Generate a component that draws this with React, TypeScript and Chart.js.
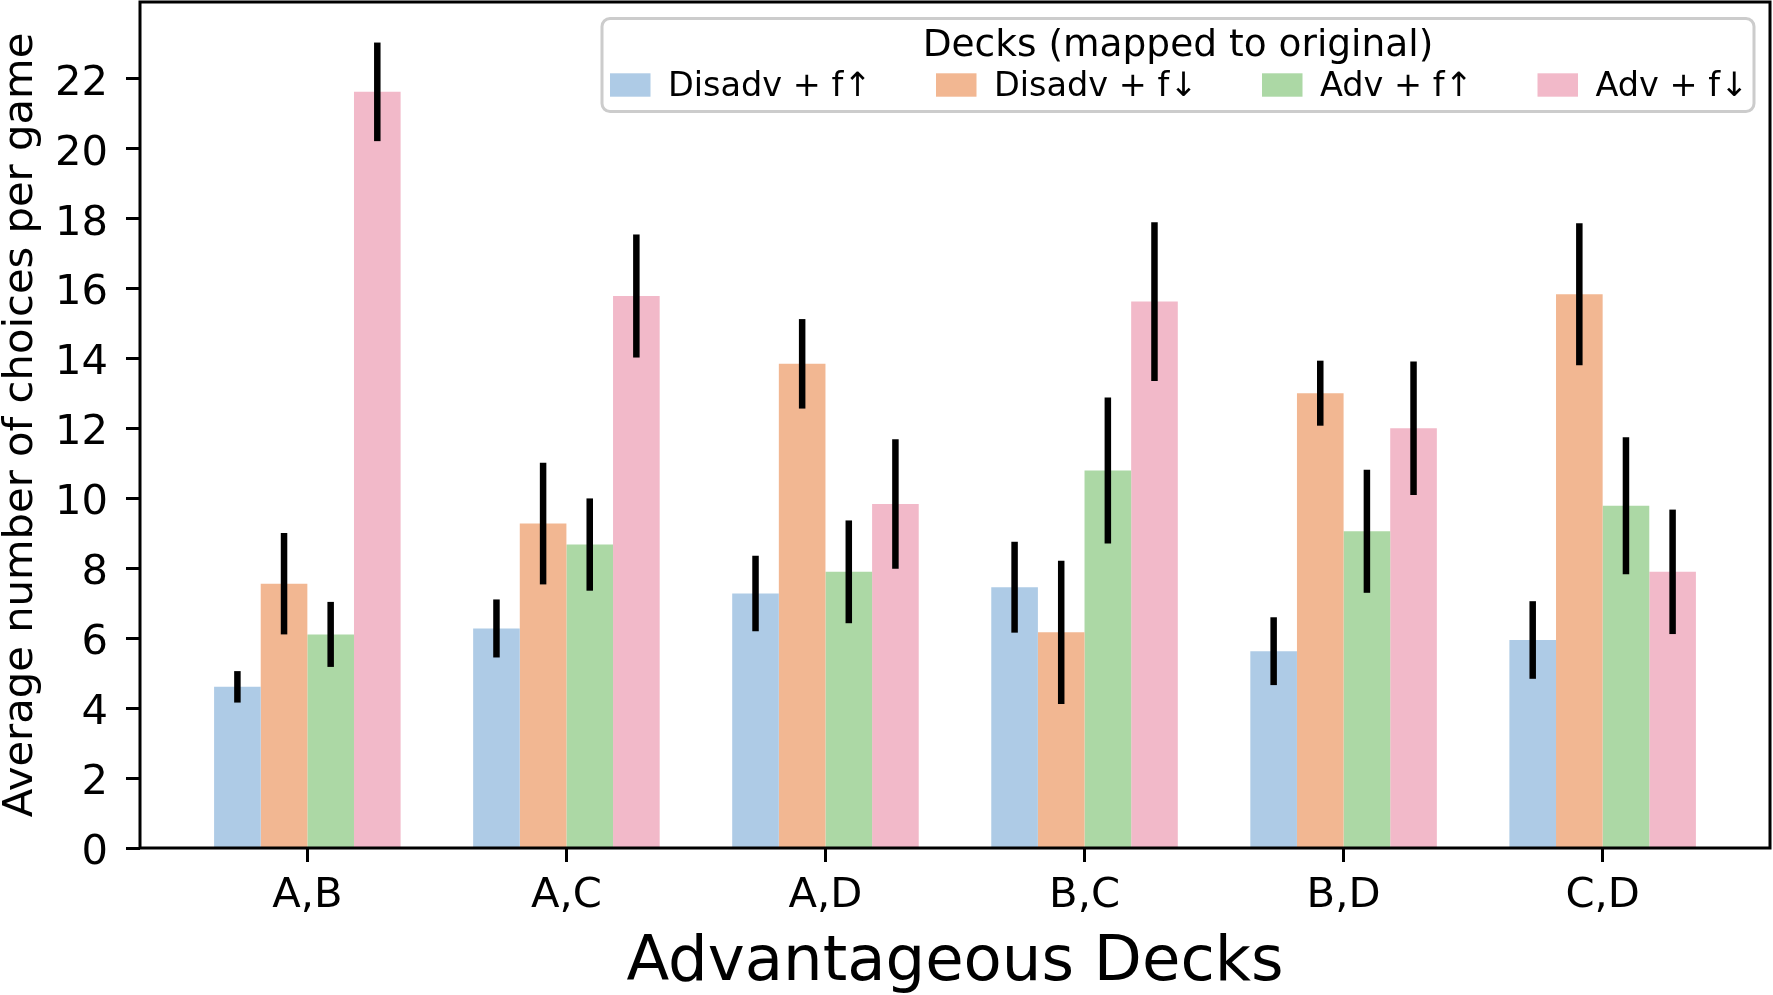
import { useEffect, useRef } from "react";
import { Chart, registerables } from "chart.js";

Chart.register(...registerables);

// ---- data ----
const categories = ["A,B", "A,C", "A,D", "B,C", "B,D", "C,D"];
const seriesLabels = ["Disadv + f↑", "Disadv + f↓", "Adv + f↑", "Adv + f↓"];

const disadvUp = [4.61, 6.28, 7.28, 7.46, 5.63, 5.95];
const disadvUpErr = [0.45, 0.83, 1.08, 1.3, 0.97, 1.11];
const disadvDown = [7.56, 9.28, 13.85, 6.17, 13.01, 15.84];
const disadvDownErr = [1.45, 1.74, 1.28, 2.05, 0.93, 2.03];
const advUp = [6.11, 8.68, 7.9, 10.8, 9.06, 9.79];
const advUpErr = [0.93, 1.32, 1.47, 2.09, 1.76, 1.96];
const advDown = [21.63, 15.79, 9.84, 15.63, 12.01, 7.9];
const advDownErr = [1.41, 1.76, 1.85, 2.27, 1.91, 1.78];

const yTicks = [0, 2, 4, 6, 8, 10, 12, 14, 16, 18, 20, 22];

const legendTitle = "Decks (mapped to original)";
const xTitle = "Advantageous Decks";
const yTitle = "Average number of choices per game";

// ---- styling ----
const FONT = '"DejaVu Sans", sans-serif';
const seriesColors = ["#aecbe6", "#f2b792", "#acd8a5", "#f2b9c9"];
const seriesValues = [disadvUp, disadvDown, advUp, advDown];
const seriesErrors = [disadvUpErr, disadvDownErr, advUpErr, advDownErr];

const errorBarPlugin = {
  id: "errorBars",
  afterDatasetsDraw(chart: any) {
    const { ctx } = chart;
    const yScale = chart.scales.y;
    ctx.save();
    ctx.strokeStyle = "#000000";
    ctx.lineWidth = 6.5;
    ctx.lineCap = "butt";
    chart.data.datasets.forEach((ds: any, di: number) => {
      const meta = chart.getDatasetMeta(di);
      const errs = seriesErrors[di];
      meta.data.forEach((bar: any, j: number) => {
        const v = ds.data[j].y;
        const yTop = yScale.getPixelForValue(v + errs[j]);
        const yBot = yScale.getPixelForValue(v - errs[j]);
        ctx.beginPath();
        ctx.moveTo(bar.x, yTop);
        ctx.lineTo(bar.x, yBot);
        ctx.stroke();
      });
    });
    ctx.restore();
  },
};

const framePlugin = {
  id: "axesFrame",
  afterDatasetsDraw(chart: any) {
    const { ctx, chartArea } = chart;
    ctx.save();
    ctx.strokeStyle = "#000000";
    ctx.lineWidth = 3;
    ctx.lineJoin = "miter";
    ctx.strokeRect(
      chartArea.left,
      chartArea.top,
      chartArea.right - chartArea.left,
      chartArea.bottom - chartArea.top
    );
    ctx.restore();
  },
};

const legendPlugin = {
  id: "deckLegend",
  afterDraw(chart: any) {
    const { ctx } = chart;
    const left = 602;
    const right = 1754;
    const top = 18.5;
    const bottom = 111.5;
    const radius = 8;
    const patchX = [610, 936, 1262, 1537.5];
    const patchW = 40.5;
    const patchH = 23.4;
    const patchY = 73.3;
    const textGap = 58;

    ctx.save();
    ctx.beginPath();
    ctx.moveTo(left + radius, top);
    ctx.lineTo(right - radius, top);
    ctx.arcTo(right, top, right, top + radius, radius);
    ctx.lineTo(right, bottom - radius);
    ctx.arcTo(right, bottom, right - radius, bottom, radius);
    ctx.lineTo(left + radius, bottom);
    ctx.arcTo(left, bottom, left, bottom - radius, radius);
    ctx.lineTo(left, top + radius);
    ctx.arcTo(left, top, left + radius, top, radius);
    ctx.closePath();
    ctx.fillStyle = "rgba(255,255,255,0.8)";
    ctx.fill();
    ctx.strokeStyle = "#cccccc";
    ctx.lineWidth = 3;
    ctx.stroke();

    ctx.fillStyle = "#000000";
    ctx.textBaseline = "alphabetic";
    ctx.textAlign = "center";
    ctx.font = `37.5px ${FONT}`;
    ctx.fillText(legendTitle, (left + right) / 2, 55.5);

    ctx.textAlign = "left";
    ctx.font = `33.5px ${FONT}`;
    seriesLabels.forEach((label, i) => {
      ctx.fillStyle = seriesColors[i];
      ctx.fillRect(patchX[i], patchY, patchW, patchH);
      ctx.fillStyle = "#000000";
      ctx.fillText(label, patchX[i] + textGap, 95.5);
    });
    ctx.restore();
  },
};

export default function App() {
  const canvasRef = useRef<HTMLCanvasElement | null>(null);

  useEffect(() => {
    document.body.style.margin = "0";
    const canvas = canvasRef.current;
    if (!canvas) return;

    const chart = new Chart(canvas, {
      type: "bar",
      data: {
        datasets: seriesLabels.map((label, i) => ({
          label,
          data: seriesValues[i].map((v, j) => ({ x: j, y: v })),
          backgroundColor: seriesColors[i],
          borderWidth: 0,
          categoryPercentage: 0.72,
          barPercentage: 1.0,
        })),
      },
      options: {
        responsive: false,
        animation: false,
        devicePixelRatio: 1,
        layout: { padding: { top: 2, right: 3, left: 0, bottom: 0 } },
        plugins: {
          legend: { display: false },
          tooltip: { enabled: false },
        },
        scales: {
          x: {
            type: "linear",
            min: -0.646,
            max: 5.646,
            offset: false,
            afterBuildTicks: (scale: any) => {
              scale.ticks = categories.map((_, i) => ({ value: i }));
            },
            afterFit: (scale: any) => {
              scale.height = 147;
              scale.paddingLeft = 0;
              scale.paddingRight = 0;
            },
            ticks: {
              autoSkip: false,
              maxRotation: 0,
              color: "#000000",
              padding: 9,
              font: { family: FONT, size: 41.7 },
              callback: (value: any) => categories[value as number] ?? "",
            },
            grid: {
              offset: false,
              drawOnChartArea: false,
              drawTicks: true,
              tickLength: 14,
              tickWidth: 3,
              tickColor: "#000000",
            },
            border: { display: false },
            title: {
              display: true,
              text: xTitle,
              color: "#000000",
              font: { family: FONT, size: 62.5, lineHeight: 1 },
              padding: { top: 0, bottom: 0 },
            },
          },
          y: {
            min: 0,
            max: 24.2,
            afterBuildTicks: (scale: any) => {
              scale.ticks = yTicks.map((v) => ({ value: v }));
            },
            afterFit: (scale: any) => {
              scale.width = 140;
              scale.paddingTop = 0;
              scale.paddingBottom = 0;
            },
            ticks: {
              color: "#000000",
              padding: 18,
              labelOffset: 5,
              font: { family: FONT, size: 41.7 },
            },
            grid: {
              drawOnChartArea: false,
              drawTicks: true,
              tickLength: 14,
              tickWidth: 3,
              tickColor: "#000000",
            },
            border: { display: false },
            title: {
              display: true,
              text: yTitle,
              color: "#000000",
              font: { family: FONT, size: 41.7, lineHeight: 1 },
              padding: { top: 0.5, bottom: 0 },
            },
          },
        },
      },
      plugins: [errorBarPlugin, framePlugin, legendPlugin],
    } as any);

    return () => chart.destroy();
  }, []);

  return (
    <canvas
      ref={canvasRef}
      width={1773}
      height={995}
      style={{ display: "block", width: "1773px", height: "995px" }}
    />
  );
}
